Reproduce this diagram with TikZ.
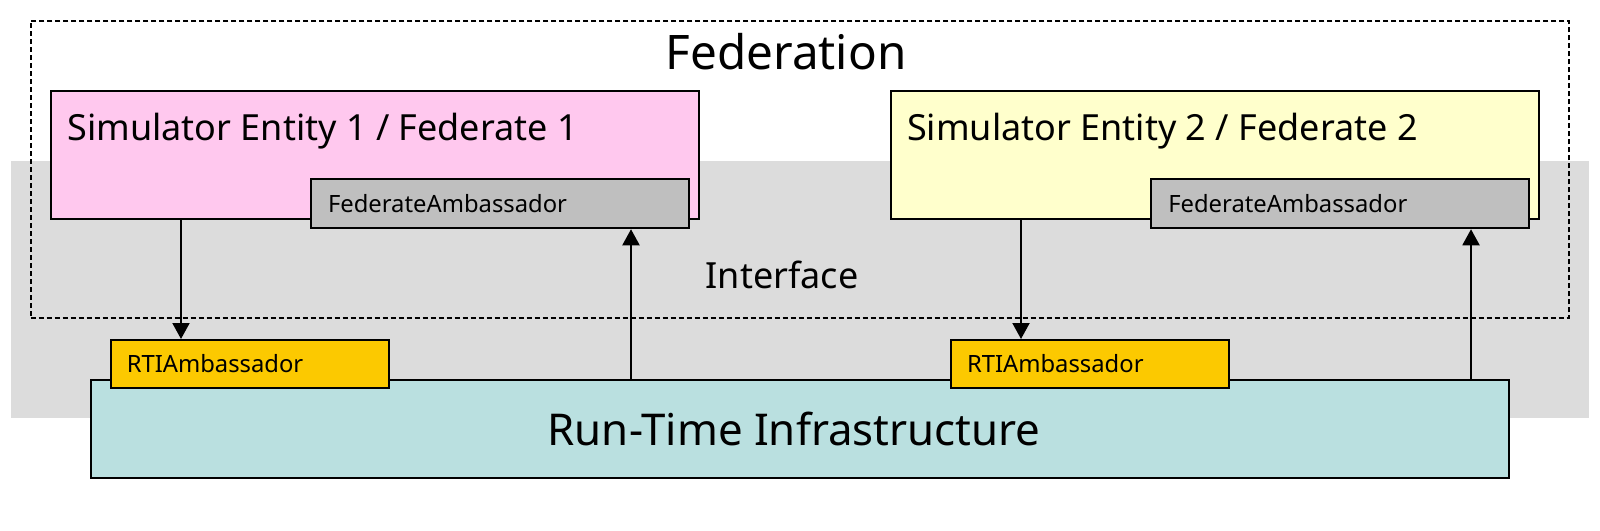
\documentclass[tikz,border=0pt]{standalone}
\usepackage{fontspec}
\setmainfont{Noto Sans}
\usetikzlibrary{arrows.meta}

\definecolor{bandgray}{RGB}{220,220,220}
\definecolor{simpink}{RGB}{255,200,238}
\definecolor{simyellow}{RGB}{255,255,204}
\definecolor{ambgray}{RGB}{191,191,191}
\definecolor{rtiorange}{RGB}{252,201,0}
\definecolor{rticyan}{RGB}{186,224,224}

\tikzset{
  box/.style={draw, line width=1pt, inner sep=0pt},
  simbox/.style={box, minimum width=324pt, minimum height=64pt},
  simlabel/.style={anchor=base west, inner sep=0pt, font=\fontsize{18}{21}\selectfont},
  fedamb/.style={box, fill=ambgray, minimum width=189pt, minimum height=24.75pt,
    inner xsep=8.5pt, text width=172pt, align=left, font=\fontsize{11.9}{14}\selectfont},
  rtiamb/.style={box, fill=rtiorange, minimum width=139pt, minimum height=24pt,
    inner xsep=8pt, text width=123pt, align=left, font=\fontsize{11.9}{14}\selectfont},
  flow/.style={-{Triangle[length=8pt, width=8.5pt]}, line width=1pt}
}

\begin{document}
\begin{tikzpicture}[x=0.5pt, y=-0.5pt]
    \useasboundingbox (0,0) rectangle (1600,530);

    % Interface band and federation frame
    \node[fill=bandgray, inner sep=0pt, minimum width=788.9pt, minimum height=128.25pt] (BAND) at (800,289.25) {};
    \node[draw, line width=0.9pt, dash pattern=on 2.5pt off 1.5pt, inner sep=0pt,
          minimum width=769.2pt, minimum height=148.5pt] (FEDERATION) at (799.8,169.5) {};
    \node[anchor=base, font=\fontsize{23.8}{28}\selectfont] (FEDLABEL) at (786,69) {Federation};
    \node[anchor=base, font=\fontsize{18}{21}\selectfont] (IFLABEL) at (782,288) {Interface};

    % Simulators
    \node[simbox, fill=simpink] (SIM1) at (375,154.5) {};
    \node[simbox, fill=simyellow] (SIM2) at (1214.8,154.5) {};
    \node[simlabel] (SIM1LABEL) at ([shift={(17,50.6)}]SIM1.north west) {Simulator Entity 1 / Federate 1};
    \node[simlabel] (SIM2LABEL) at ([shift={(17,50.6)}]SIM2.north west) {Simulator Entity 2 / Federate 2};
    \node[fedamb] (FEDAMB1) at (500,203.5) {FederateAmbassador};
    \node[fedamb] (FEDAMB2) at (1340.3,203.5) {FederateAmbassador};

    % Run-time infrastructure
    \node[box, fill=rticyan, minimum width=709.1pt, minimum height=49.1pt,
          font=\fontsize{21.9}{26}\selectfont] (RTI) at (800.15,428.9) {\hspace*{-6pt}Run-Time Infrastructure};
    \node[rtiamb] (RTIAMB1) at (249.75,364) {RTIAmbassador};
    \node[rtiamb] (RTIAMB2) at (1090,364) {RTIAmbassador};

    % Calls
    \coordinate (DOWN1) at (181,0);
    \coordinate (UP1) at (631,0);
    \coordinate (DOWN2) at (1021,0);
    \coordinate (UP2) at (1471,0);
    \draw[flow] (SIM1.south -| DOWN1) -- (RTIAMB1.north -| DOWN1);
    \draw[flow] (RTI.north -| UP1) -- (FEDAMB1.south -| UP1);
    \draw[flow] (SIM2.south -| DOWN2) -- (RTIAMB2.north -| DOWN2);
    \draw[flow] (RTI.north -| UP2) -- (FEDAMB2.south -| UP2);
\end{tikzpicture}
\end{document}
